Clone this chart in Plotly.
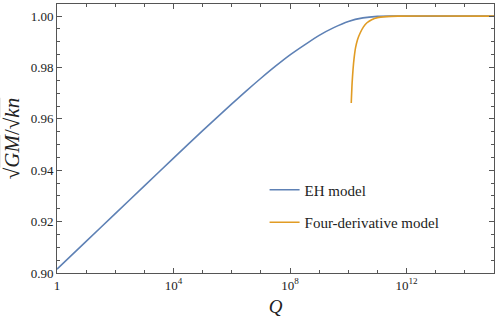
import numpy as np
import plotly.graph_objects as go

# log10(Q) and sqrt(G)M/sqrt(k n)
eh_logq = [0, 1, 2, 3, 4, 5, 6, 6.5, 7, 7.5, 8, 8.5, 9, 9.5, 10, 10.5, 11, 11.5, 12, 15]
eh_val = [0.9015, 0.9123, 0.9231, 0.9339, 0.9447, 0.9554, 0.9658, 0.9709, 0.9758,
          0.9805, 0.9849, 0.9888, 0.9925, 0.9955, 0.9979, 0.9993, 0.9999, 1.0, 1.0, 1.0]

fd_logq = [10.10, 10.13, 10.16, 10.20, 10.25, 10.32, 10.41, 10.52, 10.64, 10.80,
           11.0, 11.3, 11.7, 15]
fd_val = [0.9662, 0.9740, 0.9790, 0.9838, 0.9878, 0.9910, 0.9935, 0.9958, 0.9974,
          0.9986, 0.9994, 0.9998, 1.0, 1.0]

x_major = [0, 4, 8, 12]
x_labels = ["1", "10<sup>4</sup>", "10<sup>8</sup>", "10<sup>12</sup>"]
x_minor = [1, 2, 3, 5, 6, 7, 9, 10, 11, 13, 14]

BLUE = "#5E81B5"
ORANGE = "#E19C24"
FRAME = "#555555"
FONT = "Liberation Serif"

fig = go.Figure()
fig.add_trace(go.Scatter(
    x=10 ** np.array(eh_logq), y=eh_val, mode="lines", name="EH model",
    legendgroup="eh",
    line=dict(color=BLUE, width=1.6, shape="spline", smoothing=0.8),
))
fig.add_trace(go.Scatter(
    x=10 ** np.array(fd_logq), y=fd_val, mode="lines", name="Four-derivative model",
    legendgroup="fd",
    line=dict(color=ORANGE, width=1.6, shape="spline", smoothing=0.6),
))

fig.update_layout(
    width=498, height=323,
    margin=dict(l=57, r=4, t=4, b=50),
    paper_bgcolor="white", plot_bgcolor="white",
    font=dict(family=FONT, size=13, color="#222"),
    legend=dict(x=0.475, y=0.37, xanchor="left", yanchor="top",
                bgcolor="rgba(0,0,0,0)", font=dict(family=FONT, size=15),
                tracegroupgap=10, itemwidth=30),
    showlegend=True,
)
fig.update_xaxes(
    type="log", range=[0, 15], automargin=False,
    tickvals=[10 ** v for v in x_major], ticktext=x_labels,
    tickfont=dict(family=FONT, size=13),
    ticks="inside", ticklen=5, tickcolor=FRAME,
    minor=dict(tickvals=[10 ** v for v in x_minor], ticks="inside", ticklen=3,
               tickcolor=FRAME, showgrid=False),
    showline=True, linecolor=FRAME, linewidth=1, mirror="ticks",
    showgrid=False, zeroline=False,
    title=dict(text="<i>Q</i>", font=dict(family=FONT, size=19), standoff=8),
)
fig.update_yaxes(
    range=[0.90, 1.0047], automargin=False,
    tickvals=[0.90, 0.92, 0.94, 0.96, 0.98, 1.00], tickformat=".2f",
    tickfont=dict(family=FONT, size=13),
    ticks="inside", ticklen=5, tickcolor=FRAME,
    minor=dict(dtick=0.005, tick0=0.90, ticks="inside", ticklen=3,
               tickcolor=FRAME, showgrid=False),
    showline=True, linecolor=FRAME, linewidth=1, mirror="ticks",
    showgrid=False, zeroline=False,
    title=dict(text="√<span style='text-decoration:overline'><i>GM</i></span>/√<span style='text-decoration:overline'><i>kn</i></span>",
               font=dict(family=FONT, size=21), standoff=5),
)

fig.write_html("out.html", config={"displayModeBar": False},
               post_script="document.body.style.margin='0';")
